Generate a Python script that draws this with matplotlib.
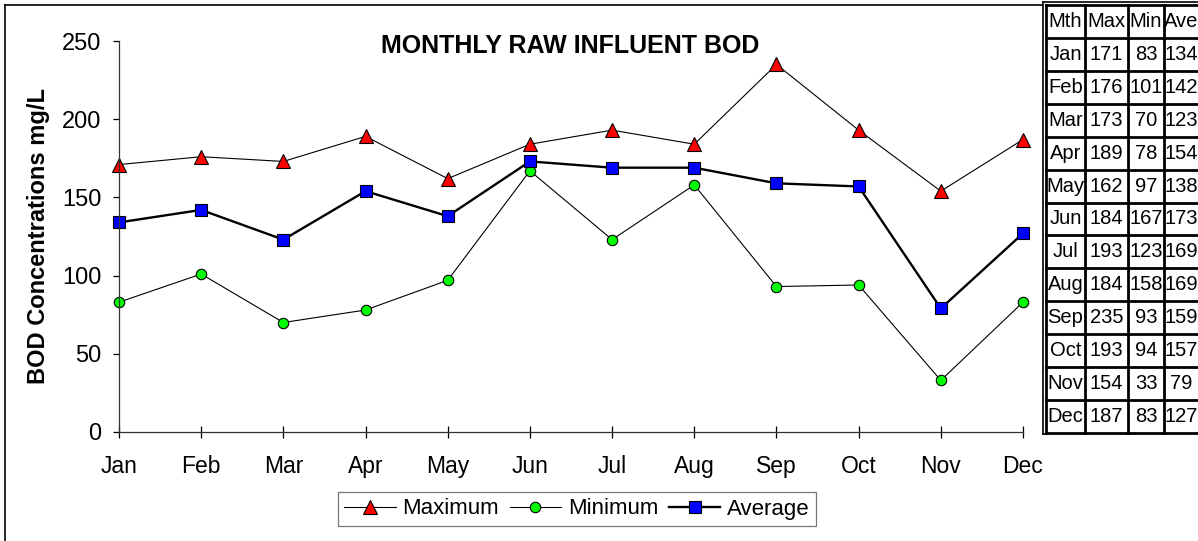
import matplotlib.pyplot as plt
import matplotlib.font_manager as fm

plt.rcParams['font.family'] = ['Liberation Sans', 'DejaVu Sans']

months = ["Jan", "Feb", "Mar", "Apr", "May", "Jun",
          "Jul", "Aug", "Sep", "Oct", "Nov", "Dec"]
bod_max = [171, 176, 173, 189, 162, 184, 193, 184, 235, 193, 154, 187]
bod_min = [83, 101, 70, 78, 97, 167, 123, 158, 93, 94, 33, 83]
bod_ave = [134, 142, 123, 154, 138, 173, 169, 169, 159, 157, 79, 127]
table_header = ["Mth", "Max", "Min", "Ave"]

W, H = 1198, 541
fig = plt.figure(figsize=(W / 100, H / 100), dpi=100)


def fx(px):
    return px / W


def fy(py):
    return 1 - py / H


# chart frame (left and top edges)
fig.add_artist(plt.Line2D([fx(4.5), fx(4.5)], [fy(4.5), fy(H + 2)],
                          color='black', lw=1.2))
fig.add_artist(plt.Line2D([fx(4.5), fx(1042)], [fy(4.5), fy(4.5)],
                          color='black', lw=1.2))

ax = fig.add_axes([fx(119), fy(432), (1023 - 119) / W, (432 - 41) / H])
x = list(range(len(months)))

ax.plot(x, bod_max, color='black', lw=0.8, marker='^', ms=10,
        mfc='#ff0000', mec='black', mew=0.8, label='Maximum')
ax.plot(x, bod_min, color='black', lw=0.8, marker='o', ms=7.5,
        mfc='#00ff00', mec='black', mew=0.8, label='Minimum')
ax.plot(x, bod_ave, color='black', lw=1.7, marker='s', ms=8,
        mfc='#0000ff', mec='black', mew=0.8, label='Average')

ax.set_xlim(0, 11)
ax.set_ylim(0, 250)
ax.set_xticks(x)
ax.set_xticklabels(months)
ax.set_yticks(range(0, 251, 50))
for s in ['top', 'right']:
    ax.spines[s].set_visible(False)
for s in ['left', 'bottom']:
    ax.spines[s].set_color('#333333')
    ax.spines[s].set_linewidth(0.9)
ax.tick_params(axis='x', direction='inout', length=9, width=0.9,
               labelsize=16.5, pad=12)
ax.tick_params(axis='y', direction='out', length=4.5, width=0.9,
               labelsize=17, pad=8)
ax.set_facecolor('none')
for ln in ax.get_lines():
    ln.set_clip_on(False)

ax.set_ylabel("BOD Concentrations mg/L", fontsize=17, fontweight='bold',
              labelpad=9)
fig.text(fx(570), fy(46), "MONTHLY RAW INFLUENT BOD", ha='center',
         va='center', fontsize=18, fontweight='bold')

leg = fig.legend(loc='center', bbox_to_anchor=(fx(577), fy(509)),
                 ncol=3, fontsize=16, frameon=True, fancybox=False,
                 edgecolor='#555555', handlelength=2.3, handletextpad=0.3,
                 columnspacing=0.5, borderpad=0.3, borderaxespad=0)
leg.get_frame().set_linewidth(0.9)

# data table on the right
narrow = 'Liberation Sans Narrow'
have_narrow = any(f.name == narrow for f in fm.fontManager.ttflist)
tfont = [narrow, 'Liberation Sans'] if have_narrow else ['Liberation Sans']
tsize = 17 if have_narrow else 14.5

col_edges = [1046, 1085, 1128, 1164, 1200]
top, bottom = 5, 433
nrows = len(months) + 1
row_h = (bottom - top) / nrows
rows = [table_header] + [[m, str(a), str(b), str(c)]
                         for m, a, b, c in zip(months, bod_max, bod_min, bod_ave)]

for r in range(nrows + 1):
    yy = top + r * row_h
    fig.add_artist(plt.Line2D([fx(col_edges[0]), fx(W)], [fy(yy), fy(yy)],
                              color='black', lw=2.0))
for cx in col_edges[:-1]:
    fig.add_artist(plt.Line2D([fx(cx), fx(cx)], [fy(top), fy(bottom)],
                              color='black', lw=2.0))
# double outer border
fig.add_artist(plt.Line2D([fx(1042.5), fx(1042.5)], [fy(1.5), fy(bottom + 1)],
                          color='black', lw=1.2))
fig.add_artist(plt.Line2D([fx(1042.5), fx(W)], [fy(1.5), fy(1.5)],
                          color='black', lw=1.2))
fig.add_artist(plt.Line2D([fx(1042.5), fx(1046)], [fy(bottom + 1), fy(bottom + 1)],
                          color='black', lw=1.2))

for r, row in enumerate(rows):
    yc = top + (r + 0.5) * row_h
    for c, txt in enumerate(row):
        xc = (col_edges[c] + col_edges[c + 1]) / 2
        if c == 3:
            xc = col_edges[c] + 17
        fig.text(fx(xc), fy(yc), txt, ha='center', va='center',
                 fontsize=tsize, family=tfont)

fig.savefig("out.png", dpi=100)
